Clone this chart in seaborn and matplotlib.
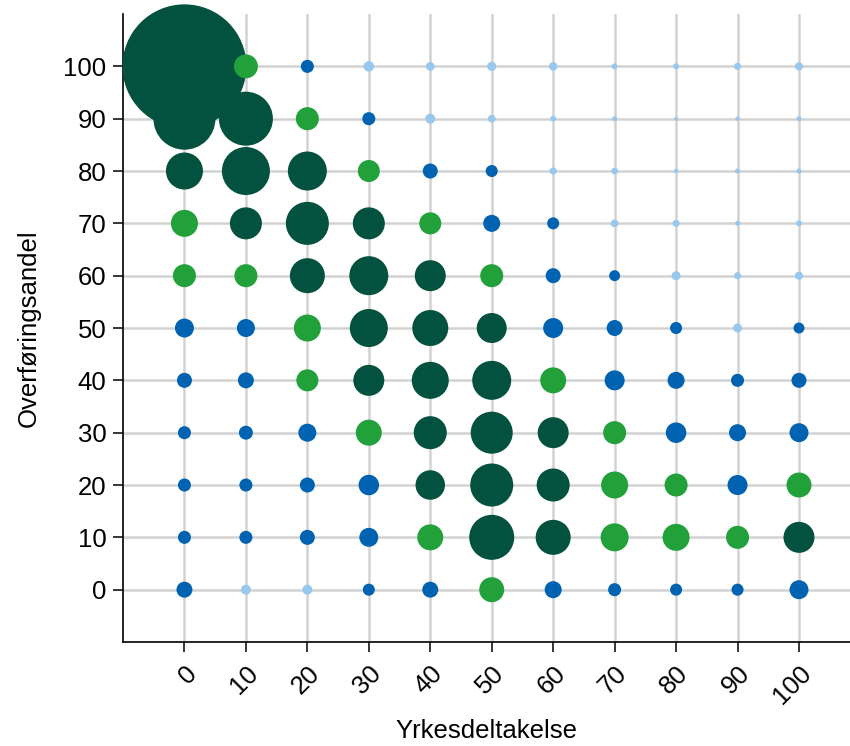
import seaborn as sns
import matplotlib.pyplot as plt
import pandas as pd

# akser
yrkesdeltakelse = [0, 10, 20, 30, 40, 50, 60, 70, 80, 90, 100]
overforingsandel = [100, 90, 80, 70, 60, 50, 40, 30, 20, 10, 0]

# andel (prosent) per celle, en rad per overføringsandel (100 -> 0)
andel_100 = [30.75, 1.15, 0.34, 0.22, 0.15, 0.17, 0.14, 0.07, 0.07, 0.10, 0.13]
andel_90 = [7.69, 5.83, 1.06, 0.34, 0.20, 0.12, 0.07, 0.05, 0.03, 0.04, 0.05]
andel_80 = [2.74, 4.61, 3.04, 0.97, 0.45, 0.29, 0.10, 0.09, 0.04, 0.05, 0.05]
andel_70 = [1.46, 2.05, 3.70, 2.05, 0.97, 0.58, 0.29, 0.12, 0.10, 0.05, 0.07]
andel_60 = [1.06, 1.06, 2.45, 3.04, 1.92, 1.06, 0.45, 0.24, 0.16, 0.10, 0.13]
andel_50 = [0.72, 0.65, 1.46, 2.89, 2.59, 1.80, 0.80, 0.51, 0.29, 0.16, 0.24]
andel_40 = [0.45, 0.51, 0.97, 1.92, 2.74, 3.04, 1.35, 0.80, 0.58, 0.34, 0.45]
andel_30 = [0.34, 0.39, 0.65, 1.35, 2.18, 3.53, 1.92, 1.06, 0.84, 0.58, 0.72]
andel_20 = [0.34, 0.34, 0.45, 0.84, 1.74, 3.70, 2.18, 1.46, 1.06, 0.80, 1.25]
andel_10 = [0.34, 0.34, 0.45, 0.72, 1.35, 4.05, 2.45, 1.57, 1.46, 1.06, 1.92]
andel_0 = [0.51, 0.20, 0.20, 0.29, 0.51, 1.25, 0.58, 0.34, 0.29, 0.29, 0.72]

andel_rader = [andel_100, andel_90, andel_80, andel_70, andel_60, andel_50,
               andel_40, andel_30, andel_20, andel_10, andel_0]

# fargegrupper
grenser = [0, 0.23, 0.9, 1.7, 100]
grupper = ["lav", "middels", "hoy", "svart_hoy"]
farger = {"lav": "#98c8ee", "middels": "#0063b2",
          "hoy": "#22a03a", "svart_hoy": "#03523f"}

rows = []
for y, rad in zip(overforingsandel, andel_rader):
    for x, v in zip(yrkesdeltakelse, rad):
        rows.append({"x": x, "y": y, "andel": v})
df = pd.DataFrame(rows)
df["gruppe"] = pd.cut(df["andel"], bins=grenser, labels=grupper, right=False).astype(str)

sns.set_theme(style="white")
plt.rcParams["font.family"] = ["Liberation Sans", "DejaVu Sans"]
plt.rcParams["text.color"] = "black"
plt.rcParams["axes.labelcolor"] = "black"
plt.rcParams["xtick.color"] = "black"
plt.rcParams["ytick.color"] = "black"

fig = plt.figure(figsize=(8.5, 7.46), dpi=100)
ax = fig.add_axes([0.1447, 0.1394, 0.8553, 0.8418])

# areal proporsjonalt med andel
skala = 259.2
vmin, vmax = df["andel"].min(), df["andel"].max()
sns.scatterplot(
    data=df, x="x", y="y",
    size="andel", sizes=(vmin * skala, vmax * skala), size_norm=(vmin, vmax),
    hue="gruppe", palette=farger,
    linewidth=0, alpha=1, legend=False, ax=ax, zorder=3, clip_on=False
)

ax.set_xlim(-10, 108.3)
ax.set_ylim(-10, 110)
ax.set_xticks(yrkesdeltakelse)
ax.set_yticks(overforingsandel)
ax.set_xticklabels([str(v) for v in yrkesdeltakelse], rotation=45,
                   ha="right", rotation_mode="anchor")
ax.grid(True, color="#d2d2d2", linewidth=1.8, zorder=0)
ax.set_axisbelow(True)

sns.despine(ax=ax)
for s in ["left", "bottom"]:
    ax.spines[s].set_color("black")
    ax.spines[s].set_linewidth(1.2)
ax.tick_params(axis="both", which="both", direction="out", length=7, width=1.1,
               colors="black", labelsize=18.5, pad=5, bottom=True, left=True)
ax.tick_params(axis="x", pad=7)

ax.set_xlabel("Yrkesdeltakelse", fontsize=18.5, labelpad=7)
ax.set_ylabel("Overføringsandel", fontsize=18.5, labelpad=16)

fig.savefig("out.png", dpi=100)
